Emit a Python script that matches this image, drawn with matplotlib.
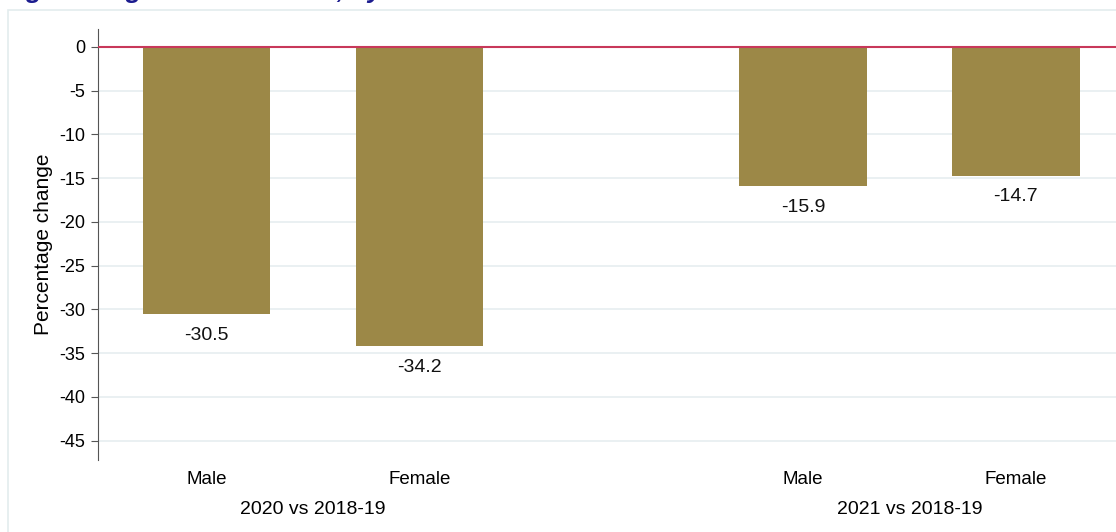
import matplotlib.pyplot as plt
from matplotlib.patches import Rectangle

plt.rcParams["font.family"] = ["Liberation Sans", "DejaVu Sans"]

# Data
sexes = ["Male", "Female", "Male", "Female"]
periods = ["2020 vs 2018-19", "2021 vs 2018-19"]
pct_change = [-30.5, -34.2, -15.9, -14.7]
positions = [0, 1, 2.8, 3.8]
yticks = [0, -5, -10, -15, -20, -25, -30, -35, -40, -45]

W, H = 1116, 532
fig = plt.figure(figsize=(W / 100, H / 100), dpi=100)
ax = fig.add_axes([98 / W, (H - 460) / H, 1 - 98 / W, (460 - 29) / H])

# Outer light frame of the graph region
fig.patches.append(Rectangle((8 / W, -0.1), 1.2, (H - 10) / H + 0.1,
                             transform=fig.transFigure, fill=False,
                             edgecolor="#e3ecee", linewidth=1.2))

# Title, mostly cut off at the top edge as in the source
fig.text(-85 / W, 1 + 2 / H, "Percentage change in the number, by cause",
         fontsize=19, fontweight="bold", fontstyle="italic",
         color="#1c1c8f", va="baseline", ha="left")

ax.bar(positions, pct_change, width=0.6, color="#9c8847", zorder=2)
for x, v in zip(positions, pct_change):
    ax.text(x, v - 1.45, f"{v:.1f}", ha="center", va="top", fontsize=14, color="#111111")

ax.axhline(0, color="#c8385a", linewidth=1.5, zorder=3)

ax.set_ylim(-47.2, 2.05)
ax.set_xlim(-0.509, 4.27)
ax.set_yticks(yticks)
ax.set_yticklabels([str(t) for t in yticks], fontsize=13)
ax.yaxis.grid(True, color="#e6eef0", linewidth=1.2, zorder=0)
ax.set_axisbelow(True)
ax.tick_params(axis="y", length=5, color="#555555", pad=4)
ax.set_ylabel("Percentage change", fontsize=15, labelpad=5)

ax.set_xticks(positions)
ax.set_xticklabels(sexes, fontsize=13.5)
ax.tick_params(axis="x", length=0, pad=8)

for i, label in enumerate(periods):
    mid = (positions[2 * i] + positions[2 * i + 1]) / 2
    ax.text(mid, -0.095, label, transform=ax.get_xaxis_transform(),
            ha="center", va="top", fontsize=14)

for s in ["top", "right", "bottom"]:
    ax.spines[s].set_visible(False)
ax.spines["left"].set_color("#555555")

fig.savefig("out.png", dpi=100)
